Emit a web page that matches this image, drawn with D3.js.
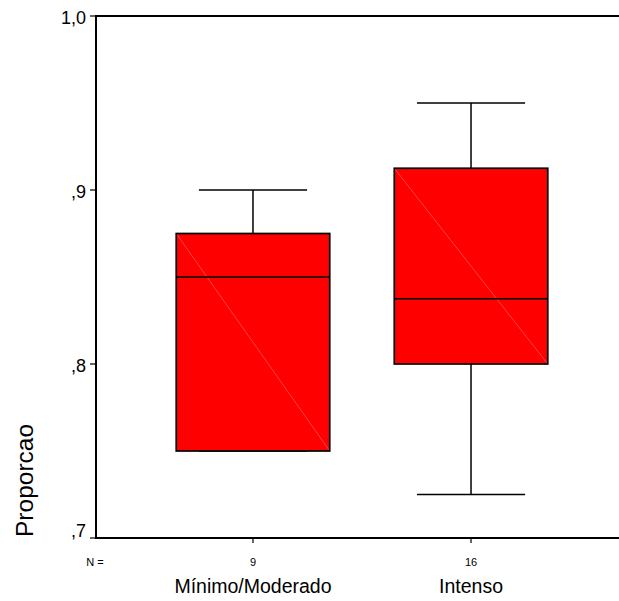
<!DOCTYPE html>
<html>
<head>
<meta charset="utf-8">
<script src="https://cdn.jsdelivr.net/npm/d3@7"></script>
<style>
  html, body { margin: 0; padding: 0; background: #fff; }
  svg { display: block; font-family: Arial, "Liberation Sans", sans-serif; }
</style>
</head>
<body>
<svg id="chart" width="619" height="601"></svg>
<script>
// ---- data ----
const categories = ["Mínimo/Moderado", "Intenso"];
const counts = [9, 16];
const whiskerLow = [0.75, 0.725];
const q1 = [0.75, 0.80];
const median = [0.85, 0.8375];
const q3 = [0.875, 0.9125];
const whiskerHigh = [0.90, 0.95];
const yTicks = [0.7, 0.8, 0.9, 1.0];
const yTickLabels = [",7", ",8", ",9", "1,0"];
const yTitle = "Proporcao";

// ---- layout ----
const svg = d3.select("#chart");
const plotLeft = 96, plotRight = 628, plotTop = 16, plotBottom = 538;

const y = d3.scaleLinear().domain([0.7, 1.0]).range([plotBottom, plotTop]);
const x = d3.scalePoint().domain(categories).range([plotLeft, plotRight]).padding(0.72);
const step = x.step();
const boxHalf = step * 0.352;
const capHalf = step * 0.248;

const data = categories.map((c, i) => ({
  c, n: counts[i], lo: whiskerLow[i], q1: q1[i], med: median[i], q3: q3[i], hi: whiskerHigh[i]
}));

const g = svg.append("g");
data.forEach(d => {
  const cx = x(d.c);
  g.append("line").attr("x1", cx).attr("x2", cx).attr("y1", y(d.hi)).attr("y2", y(d.q3))
    .attr("stroke", "#000").attr("stroke-width", 1.5);
  g.append("line").attr("x1", cx).attr("x2", cx).attr("y1", y(d.q1)).attr("y2", y(d.lo))
    .attr("stroke", "#000").attr("stroke-width", 1.5);
  g.append("line").attr("x1", cx - capHalf).attr("x2", cx + capHalf).attr("y1", y(d.hi)).attr("y2", y(d.hi))
    .attr("stroke", "#000").attr("stroke-width", 1.5);
  g.append("line").attr("x1", cx - capHalf).attr("x2", cx + capHalf).attr("y1", y(d.lo)).attr("y2", y(d.lo))
    .attr("stroke", "#000").attr("stroke-width", 1.5);
  g.append("rect").attr("x", cx - boxHalf).attr("y", y(d.q3))
    .attr("width", boxHalf * 2).attr("height", y(d.q1) - y(d.q3))
    .attr("fill", "#ff0000").attr("stroke", "none");
  g.append("line").attr("x1", cx - boxHalf).attr("y1", y(d.q3))
    .attr("x2", cx + boxHalf).attr("y2", y(d.q1))
    .attr("stroke", "#ff7070").attr("stroke-width", 0.6);
  g.append("rect").attr("x", cx - boxHalf).attr("y", y(d.q3))
    .attr("width", boxHalf * 2).attr("height", y(d.q1) - y(d.q3))
    .attr("fill", "none").attr("stroke", "#000").attr("stroke-width", 1.7);
  g.append("line").attr("x1", cx - boxHalf).attr("x2", cx + boxHalf)
    .attr("y1", y(d.med)).attr("y2", y(d.med))
    .attr("stroke", "#000").attr("stroke-width", 1.7);
});

// axes frame
svg.append("line").attr("x1", plotLeft).attr("x2", 640).attr("y1", plotTop).attr("y2", plotTop)
  .attr("stroke", "#000").attr("stroke-width", 2);
svg.append("line").attr("x1", plotLeft).attr("x2", 640).attr("y1", plotBottom).attr("y2", plotBottom)
  .attr("stroke", "#000").attr("stroke-width", 2);
svg.append("line").attr("x1", plotLeft).attr("x2", plotLeft).attr("y1", plotTop - 1).attr("y2", plotBottom + 1)
  .attr("stroke", "#000").attr("stroke-width", 2);

// y ticks
yTicks.forEach((t, i) => {
  const ty = y(t);
  svg.append("line").attr("x1", plotLeft - 6).attr("x2", plotLeft).attr("y1", ty).attr("y2", ty)
    .attr("stroke", "#000").attr("stroke-width", 1.2);
  svg.append("text").attr("x", plotLeft - 10).attr("y", Math.min(ty + 8, plotBottom - 1))
    .attr("text-anchor", "end").attr("font-size", 18).attr("fill", "#000")
    .text(yTickLabels[i]);
});

// x ticks
categories.forEach(c => {
  svg.append("line").attr("x1", x(c)).attr("x2", x(c)).attr("y1", plotBottom).attr("y2", plotBottom + 5)
    .attr("stroke", "#000").attr("stroke-width", 1.2);
});

// N labels
svg.append("text").attr("x", 95).attr("y", 566).attr("text-anchor", "middle")
  .attr("font-size", 11).text("N =");
data.forEach(d => {
  svg.append("text").attr("x", x(d.c)).attr("y", 566).attr("text-anchor", "middle")
    .attr("font-size", 11).text(d.n);
});

// category labels
categories.forEach(c => {
  svg.append("text").attr("x", x(c)).attr("y", 593).attr("text-anchor", "middle")
    .attr("font-size", 19.5).text(c);
});

// y title
svg.append("text").attr("transform", `translate(33,${plotBottom - 1}) rotate(-90)`)
  .attr("text-anchor", "start").attr("font-size", 24.5).text(yTitle);
</script>
</body>
</html>
